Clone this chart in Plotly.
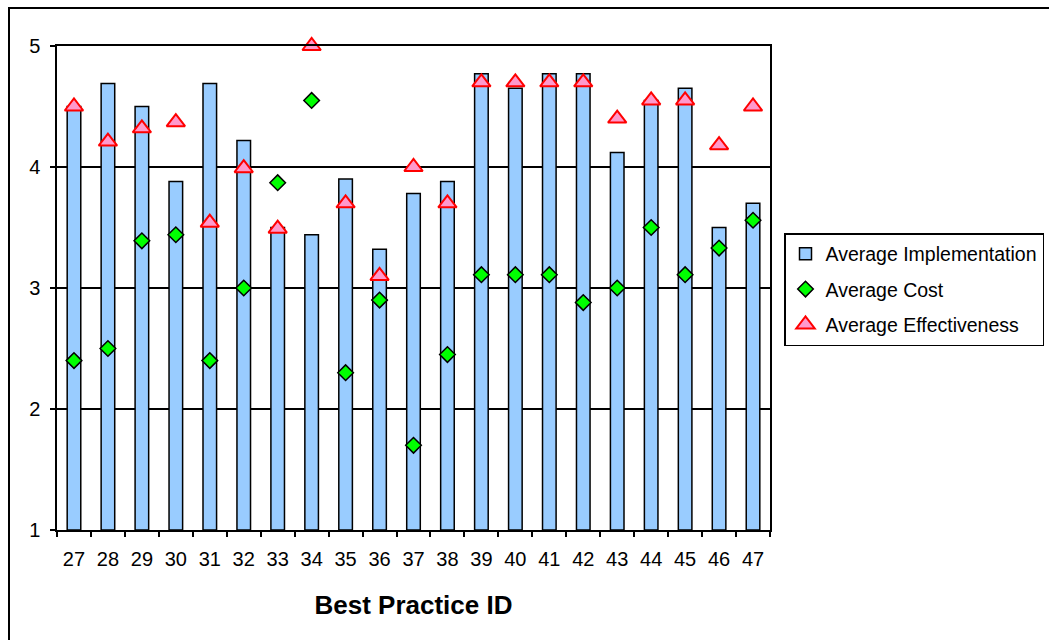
import plotly.graph_objects as go

# Best practice IDs and their survey averages
practice_ids = [str(i) for i in range(27, 48)]
avg_implementation = [4.50, 4.69, 4.50, 3.88, 4.69, 4.22, 3.50, 3.44, 3.90, 3.32, 3.78,
                      3.88, 4.77, 4.65, 4.77, 4.77, 4.12, 4.55, 4.65, 3.50, 3.70]
avg_cost = [2.40, 2.50, 3.39, 3.44, 2.40, 3.00, 3.87, 4.55, 2.30, 2.90, 1.70,
            2.45, 3.11, 3.11, 3.11, 2.88, 3.00, 3.50, 3.11, 3.33, 3.56]
avg_effectiveness = [4.50, 4.21, 4.32, 4.37, 3.54, 3.99, 3.49, 5.00, 3.70, 3.10, 4.00,
                     3.70, 4.70, 4.70, 4.70, 4.70, 4.40, 4.55, 4.55, 4.18, 4.50]
y_ticks = [1, 2, 3, 4, 5]

FONT = "Liberation Sans, Arial, sans-serif"

# plot area in pixels (figure is 1049 x 640)
W, H = 1049, 640
L, R, T, B = 57, 770, 46, 530


def px_x(p):
    return (p - L) / (R - L)


def px_y(p):
    return (B - p) / (B - T)


fig = go.Figure()

fig.add_trace(go.Bar(
    x=practice_ids, y=[v - 1 for v in avg_implementation], base=1,
    name="Average Implementation", legendgroup="impl",
    width=0.4,
    marker=dict(color="#99CCFF", line=dict(color="black", width=1.5)),
    hovertext=[f"{v:.2f}" for v in avg_implementation],
))

fig.add_trace(go.Scatter(
    x=practice_ids, y=avg_cost, mode="markers",
    name="Average Cost", legendgroup="cost",
    marker=dict(symbol="diamond", size=12, color="#00FF00",
                line=dict(color="black", width=1.5)),
    cliponaxis=False,
))

fig.add_trace(go.Scatter(
    x=practice_ids, y=avg_effectiveness, mode="markers",
    name="Average Effectiveness", legendgroup="eff",
    marker=dict(symbol="triangle-up", size=16, color="#FF99CC",
                line=dict(color="#FF0000", width=2)),
    cliponaxis=False,
))

fig.update_layout(
    width=W, height=H,
    margin=dict(l=L, r=W - R, t=T, b=H - B, pad=0),
    paper_bgcolor="white", plot_bgcolor="white",
    font=dict(family=FONT, size=20, color="black"),
    showlegend=True,
    legend=dict(
        xref="container", yref="container",
        x=784 / W, y=1 - 233 / H, xanchor="left", yanchor="top",
        bordercolor="black", borderwidth=1.5, bgcolor="white",
        font=dict(family=FONT, size=19.5, color="black"),
        tracegroupgap=7, itemwidth=30,
    ),
    bargap=0.6,
    shapes=[dict(
        type="rect", xref="paper", yref="paper",
        x0=px_x(9), x1=px_x(1100), y0=px_y(700), y1=px_y(8),
        line=dict(color="black", width=2), fillcolor="rgba(0,0,0,0)", layer="below",
    )],
)

fig.update_xaxes(
    type="category", categoryorder="array", categoryarray=practice_ids,
    range=[-0.5, len(practice_ids) - 0.5], autorange=False,
    showline=True, linecolor="black", linewidth=1.5, mirror=True,
    ticks="outside", tickson="boundaries", ticklen=5, tickwidth=1.5, tickcolor="black",
    showgrid=False, tickangle=0,
    tickfont=dict(family=FONT, size=20),
    ticklabelstandoff=10,
    title=dict(text="<b>Best Practice ID</b>", font=dict(family=FONT, size=26), standoff=27),
)

fig.update_yaxes(
    range=[1, 5], tickvals=y_ticks, ticktext=[str(v) for v in y_ticks],
    showline=True, linecolor="black", linewidth=1.5, mirror=True,
    ticks="outside", ticklen=5, tickwidth=1.5, tickcolor="black",
    showgrid=True, gridcolor="black", gridwidth=1.5,
    zeroline=False,
    tickfont=dict(family=FONT, size=20),
    ticklabelstandoff=6,
)

fig.write_html("out.html")
